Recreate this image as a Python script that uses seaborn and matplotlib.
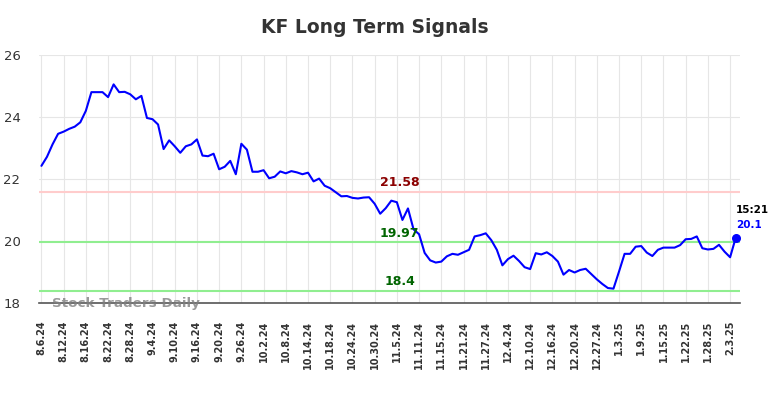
import numpy as np
import pandas as pd
import matplotlib
matplotlib.use("Agg")
import matplotlib.pyplot as plt
import seaborn as sns

# daily closing values, one per trading day (8.6.24 .. 2.4.25)
prices = [
    22.42, 22.71, 23.11, 23.45, 23.52, 23.61, 23.68, 23.82, 24.19, 24.79,
    24.79, 24.79, 24.63, 25.04, 24.79, 24.80, 24.72, 24.56, 24.67, 23.96,
    23.92, 23.75, 22.96, 23.24, 23.05, 22.84, 23.05, 23.11, 23.27, 22.75,
    22.73, 22.81, 22.31, 22.39, 22.58, 22.15, 23.13, 22.94, 22.23, 22.23,
    22.28, 22.02, 22.07, 22.24, 22.18, 22.25, 22.21, 22.15, 22.20, 21.92,
    22.01, 21.78, 21.70, 21.57, 21.44, 21.45, 21.39, 21.37, 21.40, 21.41,
    21.20, 20.88, 21.06, 21.30, 21.25, 20.68, 21.05, 20.38, 20.22, 19.62,
    19.38, 19.31, 19.34, 19.51, 19.59, 19.56, 19.64, 19.72, 20.15, 20.19,
    20.25, 20.03, 19.72, 19.22, 19.42, 19.53, 19.36, 19.16, 19.10, 19.61,
    19.57, 19.64, 19.52, 19.34, 18.92, 19.07, 18.99, 19.07, 19.11, 18.94,
    18.77, 18.62, 18.49, 18.47, 19.02, 19.59, 19.59, 19.82, 19.84, 19.63,
    19.52, 19.72, 19.79, 19.79, 19.79, 19.87, 20.06, 20.07, 20.15, 19.77,
    19.73, 19.75, 19.88, 19.66, 19.48, 20.10,
]

# labels shown every 4th trading day
tick_labels = [
    "8.6.24", "8.12.24", "8.16.24", "8.22.24", "8.28.24", "9.4.24",
    "9.10.24", "9.16.24", "9.20.24", "9.26.24", "10.2.24", "10.8.24",
    "10.14.24", "10.18.24", "10.24.24", "10.30.24", "11.5.24", "11.11.24",
    "11.15.24", "11.21.24", "11.27.24", "12.4.24", "12.10.24", "12.16.24",
    "12.20.24", "12.27.24", "1.3.25", "1.9.25", "1.15.25", "1.22.25",
    "1.28.25", "2.3.25",
]

resistance = 21.58
support_hi = 19.97
support_lo = 18.4
last_time = "15:21"
last_label = "20.1"

df = pd.DataFrame({"idx": np.arange(len(prices)), "price": prices})

sns.set_style("whitegrid", {"grid.color": "#e6e6e6"})
plt.rcParams["font.family"] = ["DejaVu Sans"]

fig = plt.figure(figsize=(7.84, 3.98), dpi=100)
ax = fig.add_axes([0.050, 0.238, 0.894, 0.625])

ax.axhline(resistance, color="#ffcccc", lw=1.5, zorder=1)
ax.axhline(support_hi, color="#90ee90", lw=1.5, zorder=1)
ax.axhline(support_lo, color="#90ee90", lw=1.5, zorder=1)

sns.lineplot(data=df, x="idx", y="price", ax=ax, color="blue", lw=1.5, zorder=3)
last = df.iloc[-1]
ax.scatter([last["idx"]], [last["price"]], color="blue", s=30, zorder=4)

mid = 64.5
ax.text(mid, resistance + 0.08, f"{resistance:g}", color="#8b0000", fontsize=9,
        fontweight="bold", ha="center", va="bottom")
ax.text(mid, support_hi + 0.08, f"{support_hi:g}", color="#006400", fontsize=9,
        fontweight="bold", ha="center", va="bottom")
ax.text(mid, support_lo + 0.08, f"{support_lo:g}", color="#006400", fontsize=9,
        fontweight="bold", ha="center", va="bottom")

ax.text(last["idx"], last["price"] + 0.75, last_time, color="black", fontsize=7.5,
        fontweight="bold", ha="left", va="bottom")
ax.text(last["idx"], last["price"] + 0.25, last_label, color="blue", fontsize=7.5,
        fontweight="bold", ha="left", va="bottom")

ax.text(0.018, 0.0, "Stock Traders Daily", transform=ax.transAxes, color="gray",
        alpha=0.8, fontsize=9.7, fontweight="bold", ha="left", va="center", zorder=5)

ax.set_xlim(-0.4, 125.8)
ax.set_ylim(18, 26)
ax.set_yticks([18, 20, 22, 24, 26])
ax.set_xticks(np.arange(0, len(prices), 4))
ax.set_xticklabels(tick_labels, rotation=90, fontsize=7, fontweight="bold", color="#333333")
ax.tick_params(axis="y", labelsize=9.5, labelcolor="#333333", pad=10)
ax.tick_params(axis="x", pad=9)
ax.set_xlabel("")
ax.set_ylabel("")

for s in ["top", "right", "left"]:
    ax.spines[s].set_visible(False)
ax.spines["bottom"].set_color("#555555")
ax.spines["bottom"].set_linewidth(1.2)

fig.suptitle("KF Long Term Signals", x=0.478, y=0.955, fontsize=13.5,
             fontweight="bold", color="#333333")

fig.savefig("out.png", dpi=100)
